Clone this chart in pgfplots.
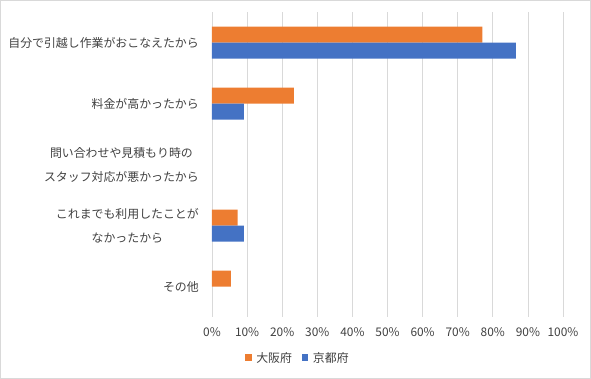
\documentclass[border=0pt]{standalone}
\usepackage{pgfplots}
\pgfplotsset{compat=1.18}
\usepackage{fontspec}
\setmainfont{Noto Sans CJK JP}
\definecolor{osaka}{HTML}{ED7D31}
\definecolor{kyoto}{HTML}{4472C4}
\definecolor{gridc}{HTML}{D9D9D9}
\definecolor{txt}{HTML}{404040}
\begin{document}
\begin{tikzpicture}
\useasboundingbox (-212pt,-62pt) rectangle (379pt,317pt);
\draw[gridc, line width=0.75pt] (-211.6pt,-61.6pt) rectangle (378.6pt,316.6pt);
\begin{axis}[
  at={(0pt,0pt)}, anchor=south west,
  scale only axis, width=351pt, height=305pt,
  xbar=0pt, bar width=16pt,
  xmin=0, xmax=100, ymin=0.5, ymax=5.5, y dir=reverse,
  xtick={0,10,...,100},
  xticklabel={\pgfmathprintnumber[assume math mode=true]{\tick}\%},
  ytick={1,2,3,4,5},
  yticklabels={{自分で引越し作業がおこなえたから},{料金が高かったから},{問い合わせや見積もり時の\\スタッフ対応が悪かったから},{これまでも利用したことが\\なかったから},{その他}},
  major tick length=0pt,
  tick style={draw=none},
  axis line style={draw=none},
  xmajorgrids, grid style={gridc, line width=0.75pt},
  yticklabel style={font=\fontsize{11.9pt}{24pt}\selectfont, text=txt, align=center, anchor=east, inner sep=0pt, xshift=-13pt},
  xticklabel style={font=\fontsize{11.9pt}{14pt}\selectfont, text=txt, anchor=base, inner sep=0pt, yshift=-19.3pt},
  legend style={at={(0.245,-0.134)}, anchor=center, draw=none, fill=none, legend columns=2,
    font=\fontsize{11.9pt}{14pt}\selectfont, text=txt,
    /tikz/every odd column/.append style={column sep=2.5pt},
    /tikz/every even column/.append style={column sep=8pt}},
]
\addplot[fill=osaka, draw=none, bar shift=8pt, legend image code/.code={\fill[osaka] (0pt,-3.5pt) rectangle (6.5pt,3.5pt);}]
  coordinates {(77.0,1) (23.3,2) (7.3,4) (5.4,5)};
\addlegendentry{大阪府}
\addplot[fill=kyoto, draw=none, bar shift=-8pt, legend image code/.code={\fill[kyoto] (0pt,-3.5pt) rectangle (6.5pt,3.5pt);}]
  coordinates {(86.6,1) (9.1,2) (9.1,4)};
\addlegendentry{京都府}
\end{axis}
\end{tikzpicture}
\end{document}
